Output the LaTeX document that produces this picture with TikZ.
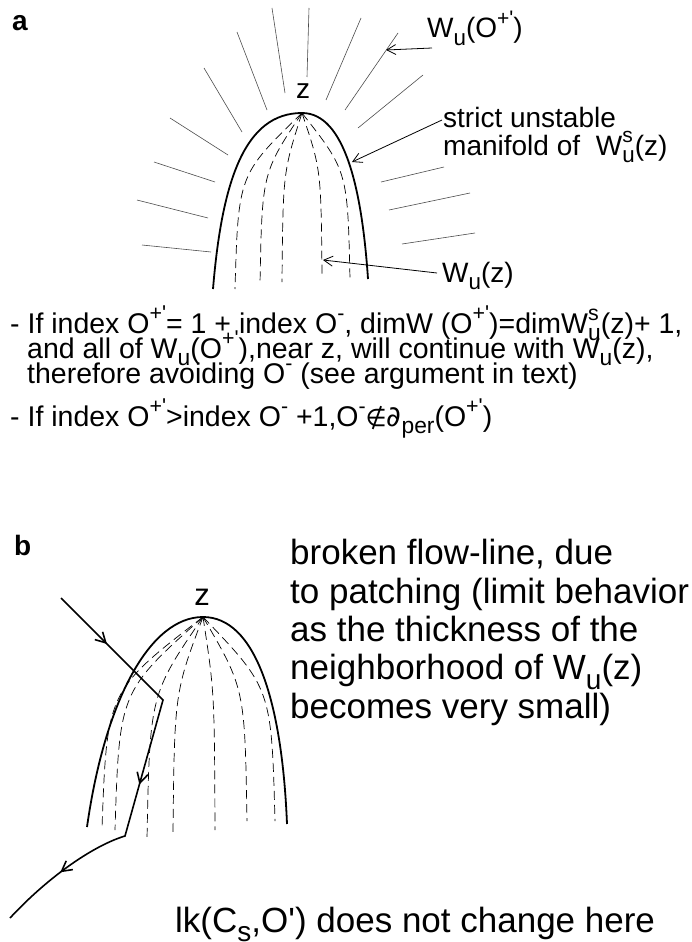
\documentclass[tikz,border=0pt]{standalone}
\usepackage{fontspec}
\usepackage{graphicx}
\usetikzlibrary{arrows.meta, decorations.markings}
\newfontfamily\figfont{Liberation Sans}
\newfontfamily\symfont{DejaVu Sans}
\newcommand\up[1]{\raisebox{0.45em}{\scalebox{0.75}{#1}}}
\newcommand\dn[1]{\raisebox{-0.28em}{\scalebox{0.8}{#1}}}
\newcommand\Wsu{W\rlap{\up{s}}\dn{u}}
\newcommand\Op{O\up{+\textquotesingle}}
\newcommand\Om{O\up{-}}
\tikzset{
  lbl/.style={font=\figfont\fontsize{28}{28}\selectfont, inner sep=0pt, anchor=base west},
  para/.style={font=\figfont\fontsize{28.5}{25}\selectfont, inner sep=0pt, anchor=base west},
  bigtext/.style={font=\figfont\fontsize{35}{38.3}\selectfont, inner sep=0pt, anchor=base west},
  panel/.style={font=\figfont\bfseries\fontsize{28}{28}\selectfont, inner sep=0pt, anchor=base west},
  ztag/.style={font=\figfont\fontsize{28}{28}\selectfont, inner sep=0pt, anchor=base},
  bound/.style={line width=1.8pt},
  leaf/.style={line width=0.7pt, dash pattern=on 9pt off 5pt},
  fan/.style={line width=0.6pt, black!70},
  ptr/.style={-{Straight Barb[length=9pt, width=10pt]}, line width=0.8pt},
  flow/.style={line width=1.6pt, postaction=decorate, decoration={markings,
    mark=at position 65pt with {\arrow{Straight Barb[length=10pt, width=11pt]}},
    mark=at position 232pt with {\arrow{Straight Barb[length=10pt, width=11pt]}},
    mark=at position 360pt with {\arrow{Straight Barb[length=10pt, width=11pt]}}}},
}
\begin{document}
\begin{tikzpicture}[x=1pt, y=-1pt]
  \useasboundingbox (0,0) rectangle (692,942);

  % === Panel a ===
  \node[panel] (tagA) at (12,31) {a};
  \coordinate (apexA) at (302,113);
  \node[ztag] (zA) at (303,98) {z};

  % W_u(O+') leaves around the arch
  \foreach \xa/\ya/\xb/\yb in {272/8/285/93, 309/8/307/77, 361/18/326/100,
      237/32/267/110, 398/33/345/110, 204/68/242/132,
      423/75/358/128, 170/118/228/155, 154/162/215/182,
      444/167/381/182, 137/200/208/218, 470/193/389/210,
      142/245/211/252, 475/233/402/244}
    \draw[fan] (\xa,\ya) -- (\xb,\yb);

  % dashed leaves of W_u(z)
  \foreach \fx/\fy in {235/289, 260/284, 282/282, 322/274, 350/279}
    \draw[leaf] (apexA) .. controls ({302+0.95*(\fx-302)},{113+0.35*(\fy-113)}) .. (\fx,\fy);

  % strict unstable manifold
  \draw[bound] (213,289) .. controls (222,180) and (245,113) .. (apexA)
    .. controls (345,113) and (362,190) .. (368,279);

  % labels and pointers
  \node[lbl] (lblO) at (427,38) {W\dn{u}(\Op)};
  \node[lbl] (lblS) at (443,127) {strict unstable};
  \node[lbl] (lblM) at (443,155) {manifold of \hspace{8pt}\Wsu(z)};
  \node[lbl] (lblW) at (442,282) {W\dn{u}(z)};
  \coordinate (tipO) at (386,50);
  \coordinate (tipS) at (352,162);
  \coordinate (tipW) at (323,260);
  \draw[ptr] ([shift={(5,10)}]lblO.base west) -- (tipO);
  \draw[ptr] ([shift={(-1,-7)}]lblS.base west) -- (tipS);
  \draw[ptr] ([shift={(-5,-9)}]lblW.base west) -- (tipW);

  % remarks
  \node[para] (rem1) at (10,333) {- If index \Op= 1 + index \Om, dimW (\Op)=dim\Wsu(z)+ 1,};
  \node[para] (rem2) at (27,358) {and all of W\dn{u}(\Op),near z, will continue with W\dn{u}(z),};
  \node[para] (rem3) at (27,383) {therefore avoiding \Om{} (see argument in text)};
  \node[para] (rem4) at (10,426) {- If index \Op>index \Om{} +1,\Om{\symfont\scalebox{0.85}{∉}∂}\dn{per}(\Op)};

  % === Panel b ===
  \node[panel] (tagB) at (14,555) {b};
  \coordinate (apexB) at (203,617);
  \node[ztag, font=\figfont\fontsize{31}{31}\selectfont] (zB) at (202,605) {z};

  \foreach \fx/\fy in {102/828, 115/830, 147/839, 173/833, 215/830, 247/821, 275/821}
    \draw[leaf] (apexB) .. controls ({203+0.95*(\fx-203)},{617+0.35*(\fy-617)}) .. (\fx,\fy);

  \draw[bound] (87,827) .. controls (105,700) and (150,617) .. (apexB)
    .. controls (255,617) and (282,700) .. (287,824);

  % broken flow-line
  \coordinate (inB) at (61,598);
  \coordinate (kinkB) at (163,700);
  \coordinate (footB) at (125,836);
  \coordinate (outB) at (10,918);
  \draw[flow] (inB) -- (kinkB) -- (footB) .. controls (95,845) and (50,875) .. (outB);

  \node[bigtext, align=left] (noteB) at (290,718) {broken flow-line, due\\
    to patching (limit behavior\\
    as the thickness of the\\
    neighborhood of W\dn{u}(z)\\
    becomes very small)};
  \node[bigtext] (lkB) at (175,932) {lk(C\dn{s},O\textquotesingle) does not change here};

\end{tikzpicture}
\end{document}
